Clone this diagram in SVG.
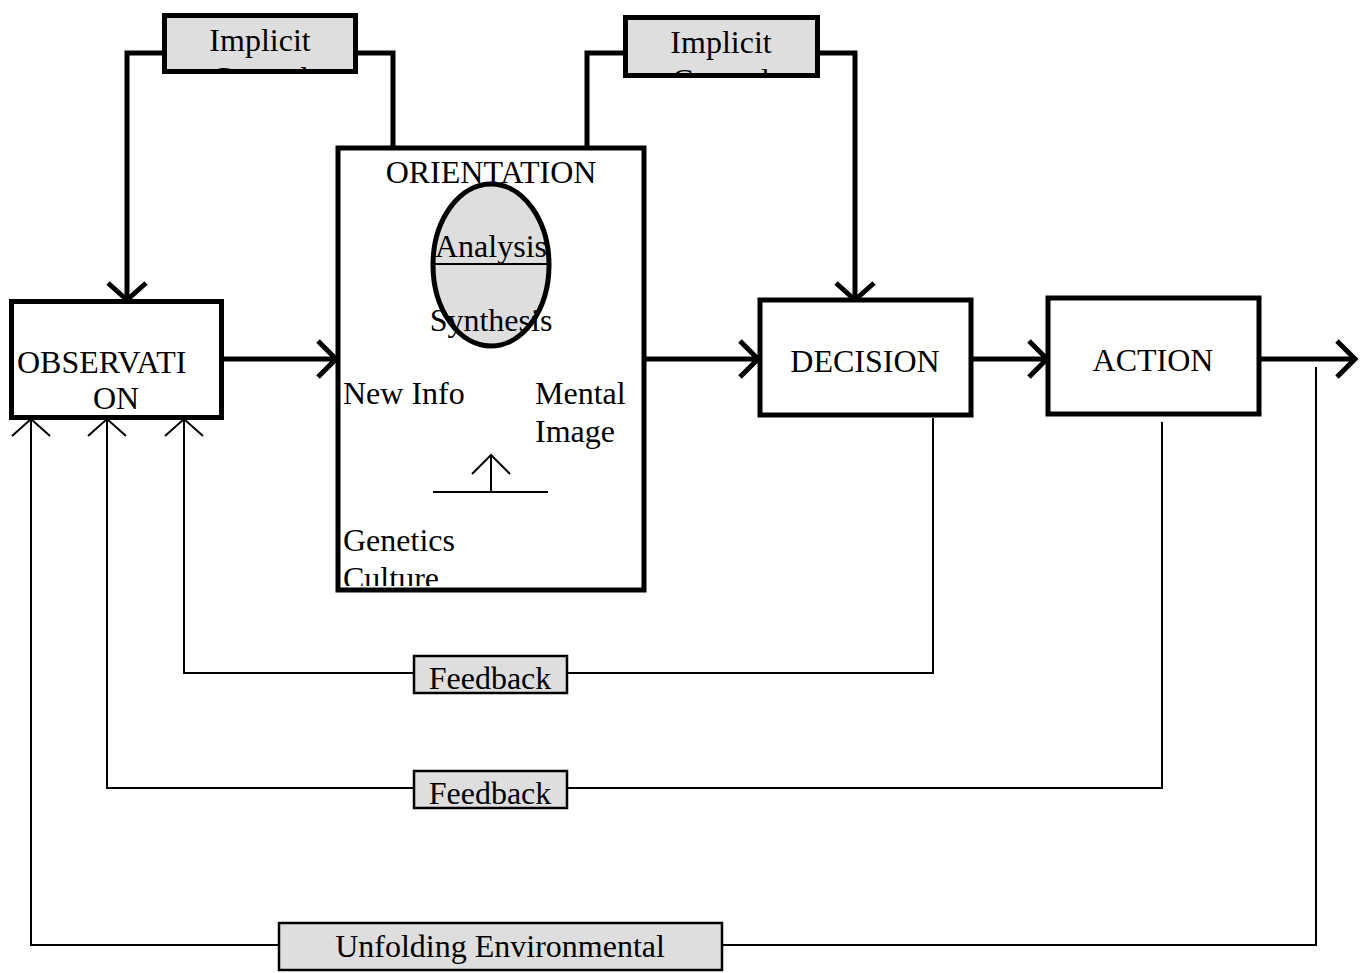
<svg xmlns="http://www.w3.org/2000/svg" width="1367" height="973" viewBox="0 0 1367 973">
<style>
text{font-family:"Liberation Serif","Times New Roman",serif;font-size:32px;fill:#000}
.box{fill:#fff;stroke:#000;stroke-width:5}
.lbl{fill:#dedede;stroke:#000;stroke-width:5}
.lblt{fill:#dedede;stroke:#000;stroke-width:2.5}
.thick{fill:none;stroke:#000;stroke-width:5}
.thin{fill:none;stroke:#000;stroke-width:2}
.mid{text-anchor:middle}
</style>
<defs>
<clipPath id="c1"><rect x="166" y="17" width="188" height="53"/></clipPath>
<clipPath id="c2"><rect x="627" y="19" width="189" height="55"/></clipPath>
<clipPath id="c3"><rect x="340" y="150" width="302" height="436"/></clipPath>
</defs>
<g id="connectors">
<path class="thick" d="M164 53 H127 V300"/>
<path class="thick" d="M108 283 L127 300 L146 283"/>
<path class="thick" d="M357 53 H393 V148"/>
<path class="thick" d="M625 53 H587 V148"/>
<path class="thick" d="M818 53 H855 V300"/>
<path class="thick" d="M836 283 L855 300 L874 283"/>
<path class="thick" d="M222 359 H336"/>
<path class="thick" d="M318 341 L336 359 L318 377"/>
<path class="thick" d="M644 359 H758"/>
<path class="thick" d="M740 341 L758 359 L740 377"/>
<path class="thick" d="M971 359 H1047"/>
<path class="thick" d="M1029 341 L1047 359 L1029 377"/>
<path class="thick" d="M1259 359 H1355"/>
<path class="thick" d="M1337 341 L1355 359 L1337 377"/>
<path class="thin" d="M933 418 V673 H568"/>
<path class="thin" d="M413 673 H184 V419"/>
<path class="thin" d="M165 436 L184 419 L203 436"/>
<path class="thin" d="M1162 422 V788 H568"/>
<path class="thin" d="M413 788 H107 V419"/>
<path class="thin" d="M88 436 L107 419 L126 436"/>
<path class="thin" d="M1316 367 V945 H722"/>
<path class="thin" d="M278 945 H31 V419"/>
<path class="thin" d="M12 436 L31 419 L50 436"/>
</g>
<g id="implicit1">
<rect class="lbl" x="164.5" y="15.5" width="191" height="56"/>
<g clip-path="url(#c1)">
<text class="mid" x="260" y="51">Implicit</text>
<text class="mid" x="260" y="89">Control</text>
</g>
</g>
<g id="implicit2">
<rect class="lbl" x="625.5" y="17.5" width="192" height="58"/>
<g clip-path="url(#c2)">
<text class="mid" x="721" y="53">Implicit</text>
<text class="mid" x="721" y="91">Control</text>
</g>
</g>
<g id="observation">
<rect class="box" x="11.5" y="301.5" width="210" height="116"/>
<text x="17" y="373">OBSERVATI</text>
<text class="mid" x="116" y="409">ON</text>
</g>
<g id="orientation">
<rect class="box" x="338" y="148" width="306" height="442"/>
<g clip-path="url(#c3)">
<text class="mid" x="491" y="183">ORIENTATION</text>
<ellipse cx="491" cy="265" rx="58" ry="81" fill="#dedede" stroke="#000" stroke-width="5"/>
<line x1="433" y1="264" x2="549" y2="264" stroke="#000" stroke-width="2"/>
<text class="mid" x="491" y="257">Analysis</text>
<text class="mid" x="491" y="331">Synthesis</text>
<text x="343" y="404">New Info</text>
<text x="535" y="404">Mental</text>
<text x="535" y="442">Image</text>
<path class="thin" d="M491 492 V455 M472 474 L491 455 L510 474 M433 492 H548"/>
<text x="343" y="551">Genetics</text>
<text x="343" y="589">Culture</text>
</g>
</g>
<g id="decision">
<rect class="box" x="760" y="300" width="211" height="115"/>
<text class="mid" x="865" y="372">DECISION</text>
</g>
<g id="action">
<rect class="box" x="1048" y="298" width="211" height="116"/>
<text class="mid" x="1153" y="371">ACTION</text>
</g>
<g id="feedback1">
<rect class="lblt" x="414" y="656" width="153" height="37"/>
<text class="mid" x="490" y="689">Feedback</text>
</g>
<g id="feedback2">
<rect class="lblt" x="414" y="771" width="153" height="37"/>
<text class="mid" x="490" y="804">Feedback</text>
</g>
<g id="unfolding">
<rect class="lblt" x="279" y="923" width="443" height="47"/>
<text class="mid" x="500" y="957">Unfolding Environmental</text>
</g>
</svg>
